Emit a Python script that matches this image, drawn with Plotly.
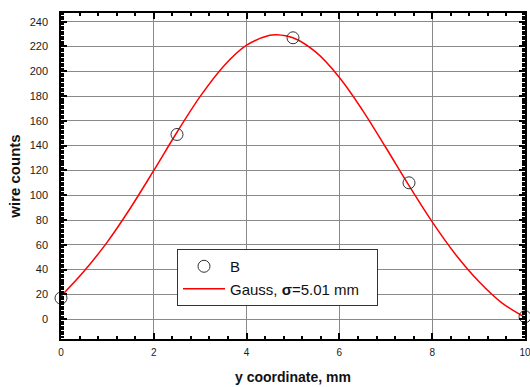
import plotly.graph_objects as go

# measured data points
pos_mm = [0, 2.5, 5, 7.5, 10]
counts = [17, 149, 227, 110, 2]

# Gauss fit curve
fit_x = [0, 0.5, 1, 1.5, 2, 2.5, 3, 3.5, 4, 4.5, 4.65, 5, 5.5, 6, 6.5, 7, 7.5, 8, 8.5, 9, 9.5, 10]
fit_y = [18.5, 38.8, 62.4, 89.9, 120.0, 150.8, 179.7, 203.9, 221.0, 229.0, 229.5, 227.0,
         215.2, 195.0, 168.5, 138.5, 107.8, 78.5, 52.4, 30.6, 13.2, 1.5]

x_ticks = [0, 2, 4, 6, 8, 10]
y_ticks = [0, 20, 40, 60, 80, 100, 120, 140, 160, 180, 200, 220, 240]

FONT = "Liberation Sans, Arial, sans-serif"

fig = go.Figure()
fig.add_trace(go.Scatter(
    x=fit_x, y=fit_y, mode="lines", line=dict(color="#ff0000", width=1.5, shape="spline"),
    name="Gauss, <b>σ</b>=5.01 mm\u00a0\u00a0\u00a0", legendrank=2, cliponaxis=False))
fig.add_trace(go.Scatter(
    x=pos_mm, y=counts, mode="markers", cliponaxis=False,
    marker=dict(symbol="circle-open", size=12, color="#333333", line=dict(width=1)),
    name="B", legendrank=1))

axis_common = dict(
    showline=True, linecolor="black", linewidth=1.5, mirror="ticks",
    ticks="inside", ticklen=6, tickwidth=1.5, tickcolor="black",
    showgrid=True, gridcolor="#8a8a8a", gridwidth=1, zeroline=False,
    tickfont=dict(family=FONT, size=11, color="#1a1a1a"),
    automargin=False,
)

fig.update_xaxes(
    **axis_common, range=[0, 10], tickvals=x_ticks, ticktext=[str(v) for v in x_ticks],
    minor=dict(dtick=0.4, tick0=0, ticks="inside", ticklen=3, tickcolor="black", showgrid=False),
    title=dict(text="<b>y coordinate, mm</b>", font=dict(family=FONT, size=14, color="#111111"), standoff=15),
    ticklabelstandoff=3, ticklabeloverflow="allow",
)
fig.update_xaxes(tickfont=dict(size=10))
fig.update_yaxes(
    **axis_common, range=[-16, 247], tickvals=y_ticks, ticktext=[str(v) for v in y_ticks],
    minor=dict(dtick=2, tick0=0, ticks="inside", ticklen=3, tickcolor="black", showgrid=False),
    title=dict(text="<b>wire counts</b>", font=dict(family=FONT, size=15, color="#111111"), standoff=5),
    ticklabelstandoff=9,
)

fig.update_layout(
    template="none",
    width=530, height=387,
    margin=dict(l=61, r=5, t=13, b=48),
    paper_bgcolor="white", plot_bgcolor="white",
    font=dict(family=FONT, size=12, color="#111111"),
    showlegend=True,
    legend=dict(
        x=0.25, y=0.276, xanchor="left", yanchor="top",
        bgcolor="white", bordercolor="#333333", borderwidth=1,
        font=dict(family=FONT, size=15, color="#111111"),
        itemwidth=42, tracegroupgap=0,
    ),
)

fig.write_html("out.html", config={"displayModeBar": False},
               post_script="document.body.style.margin='0';document.body.style.overflow='hidden';")
